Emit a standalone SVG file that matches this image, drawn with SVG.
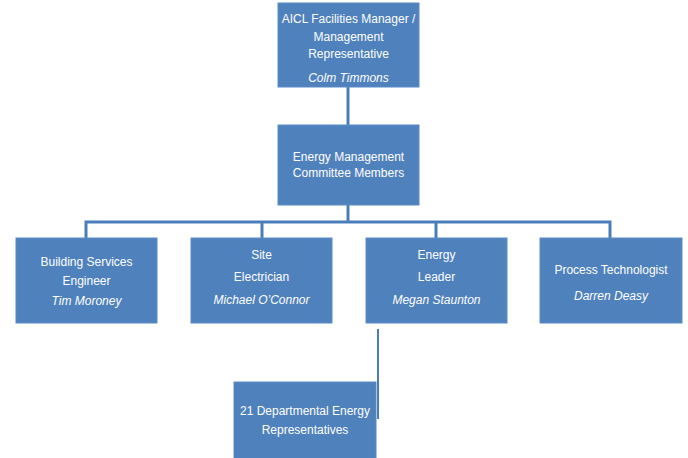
<svg xmlns="http://www.w3.org/2000/svg" width="688" height="458" viewBox="0 0 688 458">
<style>
.box{fill:#4F81BD;stroke:#5B8CC6;stroke-width:1}
.t{font-family:"Liberation Sans",Arial,sans-serif;font-size:12px;fill:#FFFFFF;text-anchor:middle}
.i{font-style:italic}
.c{stroke:#4A7EBB;stroke-width:3;fill:none}
</style>
<rect width="688" height="458" fill="#FFFFFF"/>
<g id="connectors">
<line class="c" x1="348" y1="87" x2="348" y2="125"/>
<line class="c" x1="348" y1="205" x2="348" y2="223"/>
<polyline class="c" points="86,238 86,222 610,222 610,238"/>
<line class="c" x1="262" y1="222" x2="262" y2="238"/>
<line class="c" x1="436" y1="222" x2="436" y2="238"/>
<line class="c" x1="378" y1="329" x2="378" y2="419" style="stroke-width:2"/>
</g>
<g id="manager">
<rect class="box" x="278" y="3" width="141" height="84"/>
<text class="t" x="348.5" y="23">AICL Facilities Manager /</text>
<text class="t" x="348.5" y="41">Management</text>
<text class="t" x="348.5" y="58">Representative</text>
<text class="t i" x="348.5" y="82">Colm Timmons</text>
</g>
<g id="committee">
<rect class="box" x="278" y="125" width="141" height="80"/>
<text class="t" x="348.5" y="161">Energy Management</text>
<text class="t" x="348.5" y="177">Committee Members</text>
</g>
<g id="building">
<rect class="box" x="16" y="238" width="141" height="85"/>
<text class="t" x="86.5" y="266">Building Services</text>
<text class="t" x="86.5" y="285">Engineer</text>
<text class="t i" x="86.5" y="305">Tim Moroney</text>
</g>
<g id="electrician">
<rect class="box" x="191" y="238" width="141" height="85"/>
<text class="t" x="261.5" y="259">Site</text>
<text class="t" x="261.5" y="281">Electrician</text>
<text class="t i" x="261.5" y="304">Michael O’Connor</text>
</g>
<g id="leader">
<rect class="box" x="366" y="238" width="141" height="85"/>
<text class="t" x="436.5" y="259">Energy</text>
<text class="t" x="436.5" y="281">Leader</text>
<text class="t i" x="436.5" y="304">Megan Staunton</text>
</g>
<g id="technologist">
<rect class="box" x="540" y="238" width="142" height="85"/>
<text class="t" x="611" y="274">Process Technologist</text>
<text class="t i" x="611" y="300">Darren Deasy</text>
</g>
<g id="departmental">
<rect class="box" x="234" y="382" width="142" height="78"/>
<text class="t" x="305" y="415">21 Departmental Energy</text>
<text class="t" x="305" y="434">Representatives</text>
</g>
</svg>
